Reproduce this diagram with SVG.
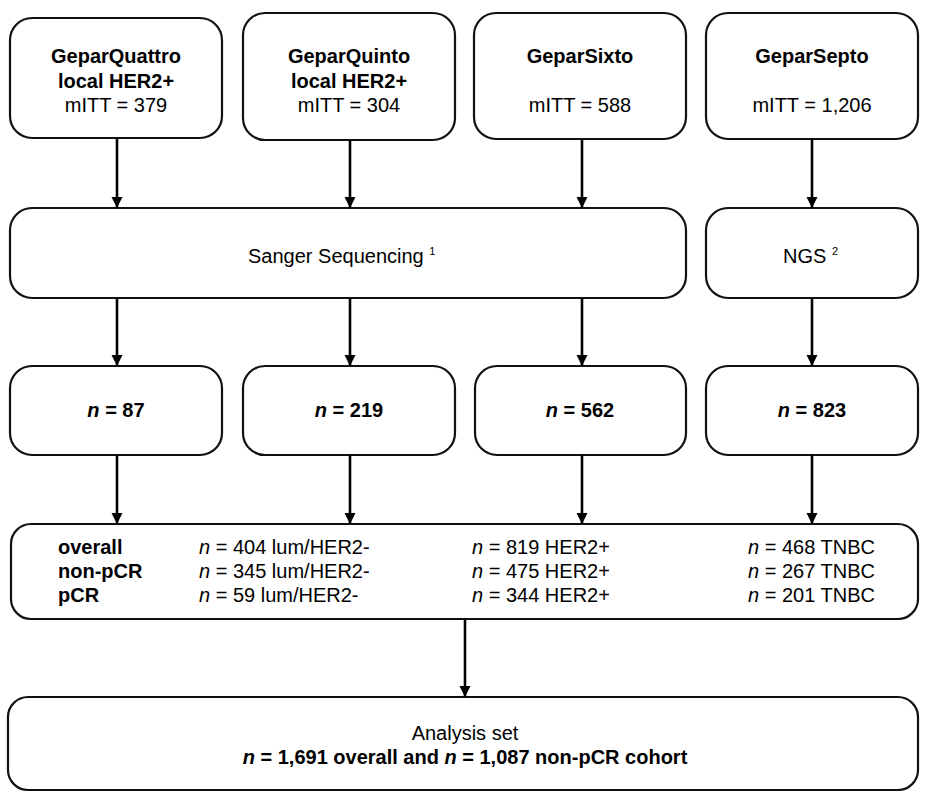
<svg xmlns="http://www.w3.org/2000/svg" width="930" height="800" viewBox="0 0 930 800">
<defs>
<marker id="ah" viewBox="0 0 10 10" refX="10" refY="5" markerWidth="11" markerHeight="12" markerUnits="userSpaceOnUse" orient="auto">
<path d="M0,0 L10,5 L0,10 Z" fill="#000"/>
</marker>
<style>
.box{fill:#fff;stroke:#111;stroke-width:2.2}
text{font-family:"Liberation Sans",Arial,sans-serif;font-size:20px;fill:#000}
.c{text-anchor:middle}
.b{font-weight:bold}
.sup{font-size:11px}
.conn line{stroke:#000;stroke-width:2.6;marker-end:url(#ah)}
</style>
</defs>
<rect width="930" height="800" fill="#fff"/>
<g id="quattro"><rect class="box" x="10" y="18" width="212" height="120" rx="22"/>
<text class="c b" x="116" y="63">GeparQuattro</text>
<text class="c b" x="116" y="88">local HER2+</text>
<text class="c" x="116" y="112">mITT = 379</text></g>
<g id="quinto"><rect class="box" x="243" y="13" width="212" height="127" rx="22"/>
<text class="c b" x="349" y="63">GeparQuinto</text>
<text class="c b" x="349" y="88">local HER2+</text>
<text class="c" x="349" y="112">mITT = 304</text></g>
<g id="sixto"><rect class="box" x="474" y="13" width="212" height="126" rx="22"/>
<text class="c b" x="580" y="63">GeparSixto</text>
<text class="c" x="580" y="112">mITT = 588</text></g>
<g id="septo"><rect class="box" x="706" y="13" width="212" height="126" rx="22"/>
<text class="c b" x="812" y="63">GeparSepto</text>
<text class="c" x="812" y="112">mITT = 1,206</text></g>
<g id="sanger"><rect class="box" x="10" y="208" width="676" height="90" rx="22"/>
<text x="248" y="263">Sanger Sequencing <tspan class="sup" dy="-8">1</tspan></text></g>
<g id="ngs"><rect class="box" x="706" y="208" width="212" height="90" rx="22"/>
<text x="783" y="263">NGS <tspan class="sup" dy="-8">2</tspan></text></g>
<g id="n87"><rect class="box" x="10" y="366" width="212" height="89" rx="22"/>
<text class="c b" x="116" y="417"><tspan font-style="italic">n</tspan> = 87</text></g>
<g id="n219"><rect class="box" x="243" y="366" width="212" height="89" rx="22"/>
<text class="c b" x="349" y="417"><tspan font-style="italic">n</tspan> = 219</text></g>
<g id="n562"><rect class="box" x="475" y="366" width="211" height="89" rx="22"/>
<text class="c b" x="580" y="417"><tspan font-style="italic">n</tspan> = 562</text></g>
<g id="n823"><rect class="box" x="706" y="366" width="212" height="89" rx="22"/>
<text class="c b" x="812" y="417"><tspan font-style="italic">n</tspan> = 823</text></g>
<g id="cohorts"><rect class="box" x="11" y="524" width="907" height="95" rx="20"/>
<text class="b" x="58" y="554">overall</text>
<text class="b" x="58" y="578">non-pCR</text>
<text class="b" x="58" y="602">pCR</text>
<text x="199" y="554"><tspan font-style="italic">n</tspan> = 404 lum/HER2-</text>
<text x="199" y="578"><tspan font-style="italic">n</tspan> = 345 lum/HER2-</text>
<text x="199" y="602"><tspan font-style="italic">n</tspan> = 59 lum/HER2-</text>
<text x="472" y="554"><tspan font-style="italic">n</tspan> = 819 HER2+</text>
<text x="472" y="578"><tspan font-style="italic">n</tspan> = 475 HER2+</text>
<text x="472" y="602"><tspan font-style="italic">n</tspan> = 344 HER2+</text>
<text x="748" y="554"><tspan font-style="italic">n</tspan> = 468 TNBC</text>
<text x="748" y="578"><tspan font-style="italic">n</tspan> = 267 TNBC</text>
<text x="748" y="602"><tspan font-style="italic">n</tspan> = 201 TNBC</text></g>
<g id="analysis"><rect class="box" x="8" y="697" width="910" height="93" rx="20"/>
<text class="c" x="465" y="740">Analysis set</text>
<text class="c b" x="465" y="764"><tspan font-style="italic">n</tspan> = 1,691 overall and <tspan font-style="italic">n</tspan> = 1,087 non-pCR cohort</text></g>
<g id="connectors" class="conn">
<line x1="117" y1="138" x2="117" y2="208"/>
<line x1="350" y1="140" x2="350" y2="208"/>
<line x1="582" y1="139" x2="582" y2="208"/>
<line x1="812" y1="139" x2="812" y2="208"/>
<line x1="117" y1="298" x2="117" y2="366"/>
<line x1="350" y1="298" x2="350" y2="366"/>
<line x1="582" y1="298" x2="582" y2="366"/>
<line x1="812" y1="298" x2="812" y2="366"/>
<line x1="117" y1="455" x2="117" y2="524"/>
<line x1="350" y1="455" x2="350" y2="524"/>
<line x1="582" y1="455" x2="582" y2="524"/>
<line x1="812" y1="455" x2="812" y2="524"/>
<line x1="465" y1="619" x2="465" y2="697"/>
</g>
</svg>
